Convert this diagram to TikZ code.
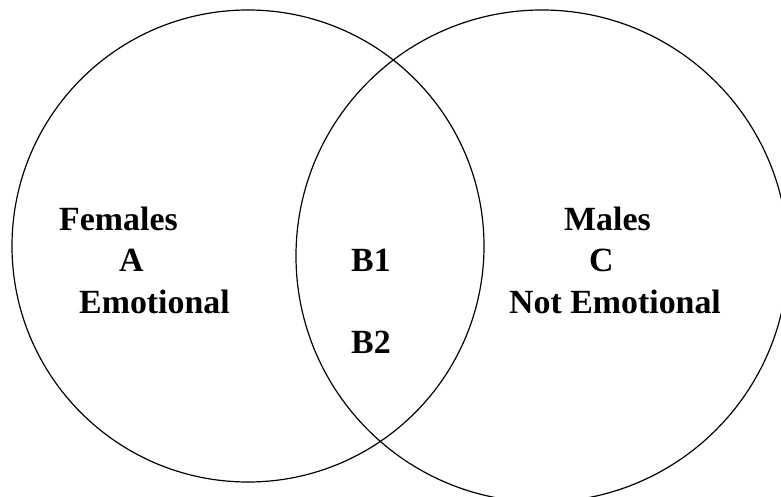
\documentclass[tikz,border=0pt]{standalone}
\usepackage{fontspec}
\setmainfont{Liberation Serif}
\usetikzlibrary{calc,positioning}

\begin{document}
\begin{tikzpicture}[x=1bp,y=-1bp,
 set/.style={line width=1.2pt},
 lbl/.style={font=\fontsize{34}{41}\selectfont\bfseries, inner sep=0pt, anchor=base west}]

 \useasboundingbox (0,0) rectangle (781,497);

  \coordinate(F) at (248,246);
  \coordinate(M) at (542,256);

  \draw [set] (F) circle [radius=236bp];
  \draw [set] (M) circle [radius=246bp];

% left set
\node[lbl] (fem) at (59,231) {Females};
\node[lbl] (a) at (119,272) {A};
\node[lbl] (emo) at (79,313) {Emotional};

% overlap
\node[lbl] (b1) at (351,272) {B1};
\node[lbl] (b2) at (351,353) {B2};

% right set
\node[lbl] (mal) at (564,231) {Males};
\node[lbl] (c) at (589,272) {C};
\node[lbl] (nemo) at (509,313) {Not Emotional};

\end{tikzpicture}
\end{document}
